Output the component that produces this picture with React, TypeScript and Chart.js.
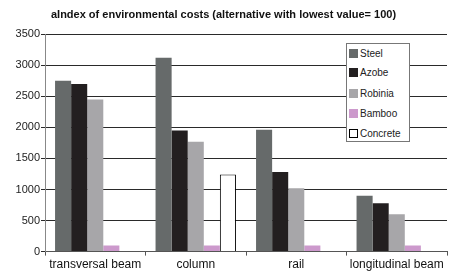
import React, { useEffect, useRef } from "react";
import { Chart, registerables } from "chart.js";

Chart.register(...registerables);

const categories = ["transversal beam", "column", "rail", "longitudinal beam"];
const seriesNames = ["Steel", "Azobe", "Robinia", "Bamboo", "Concrete"];
const steel = [2750, 3120, 1960, 900];
const azobe = [2700, 1950, 1280, 780];
const robinia = [2450, 1770, 1020, 600];
const bamboo = [100, 100, 100, 100];
const concrete = [0, 1240, 0, 0];
const yTicks = [0, 500, 1000, 1500, 2000, 2500, 3000, 3500];
const title = "aIndex of environmental costs (alternative with lowest value= 100)";

const colors = ["#666a6a", "#231f20", "#a7a6a9", "#cc99cc", "#ffffff"];
const borders = ["#666a6a", "#231f20", "#a7a6a9", "#cc99cc", "#000000"];

export default function App() {
  const ref = useRef<HTMLCanvasElement | null>(null);
  useEffect(() => {
    document.body.style.margin = "0";
    const values = [steel, azobe, robinia, bamboo, concrete];
    const chart = new Chart(ref.current!, {
      type: "bar",
      data: {
        labels: categories,
        datasets: seriesNames.map((n, i) => ({
          label: n,
          data: values[i],
          backgroundColor: colors[i],
          borderColor: borders[i],
          borderWidth: i === 4 ? 1 : 0,
          categoryPercentage: 0.8,
          barPercentage: 1,
        })),
      },
      options: {
        animation: false,
        responsive: false,
        layout: { padding: { right: 3, bottom: 3, left: 0 } },
        plugins: {
          legend: { display: false },
          tooltip: { enabled: false },
          title: {
            display: true,
            text: title,
            color: "#111",
            font: { family: "Liberation Sans, Arial", size: 11, weight: "bold" },
            padding: { top: 8, bottom: 13 },
          },
        },
        scales: {
          x: {
            offset: true,
            grid: {
              offset: true,
              drawOnChartArea: false,
              drawTicks: true,
              tickLength: 4,
              color: "#555",
            },
            border: { color: "#555" },
            ticks: {
              color: "#111",
              font: { family: "Liberation Sans, Arial", size: 12 },
              padding: 2,
              maxRotation: 0,
              autoSkip: false,
            },
          },
          y: {
            min: 0,
            max: 3500,
            afterFit: (s: any) => {
              s.width = 45;
            },
            afterBuildTicks: (s: any) => {
              s.ticks = yTicks.map((v) => ({ value: v }));
            },
            grid: { color: "#2a2a2a", tickLength: 4, lineWidth: 1 },
            border: { color: "#888" },
            ticks: {
              color: "#222",
              font: { family: "Liberation Sans, Arial", size: 11 },
              padding: 1,
              callback: (v: any) => String(v),
            },
          },
        },
      },
    });
    return () => chart.destroy();
  }, []);

  const legendTop = [52, 71, 92, 112, 132];
  return (
    <div style={{ position: "relative", width: 450, height: 277 }}>
      <canvas ref={ref} width={450} height={277} style={{ display: "block" }} />
      <div
        style={{
          position: "absolute",
          left: 346,
          top: 43,
          width: 62,
          height: 97,
          background: "#fff",
          border: "1px solid #777",
          fontFamily: "Liberation Sans, Arial",
          fontSize: 10,
          color: "#222",
        }}
      >
        {seriesNames.map((n, i) => (
          <div
            key={n}
            style={{
              position: "absolute",
              left: 2,
              top: legendTop[i] - 43 - 7,
              height: 14,
              display: "flex",
              alignItems: "center",
              whiteSpace: "nowrap",
            }}
          >
            <span
              style={{
                display: "inline-block",
                width: i === 4 ? 7 : 9,
                height: i === 4 ? 7 : 9,
                background: colors[i],
                border: i === 4 ? "1px solid #000" : "none",
                marginRight: 2,
              }}
            />
            {n}
          </div>
        ))}
      </div>
    </div>
  );
}
